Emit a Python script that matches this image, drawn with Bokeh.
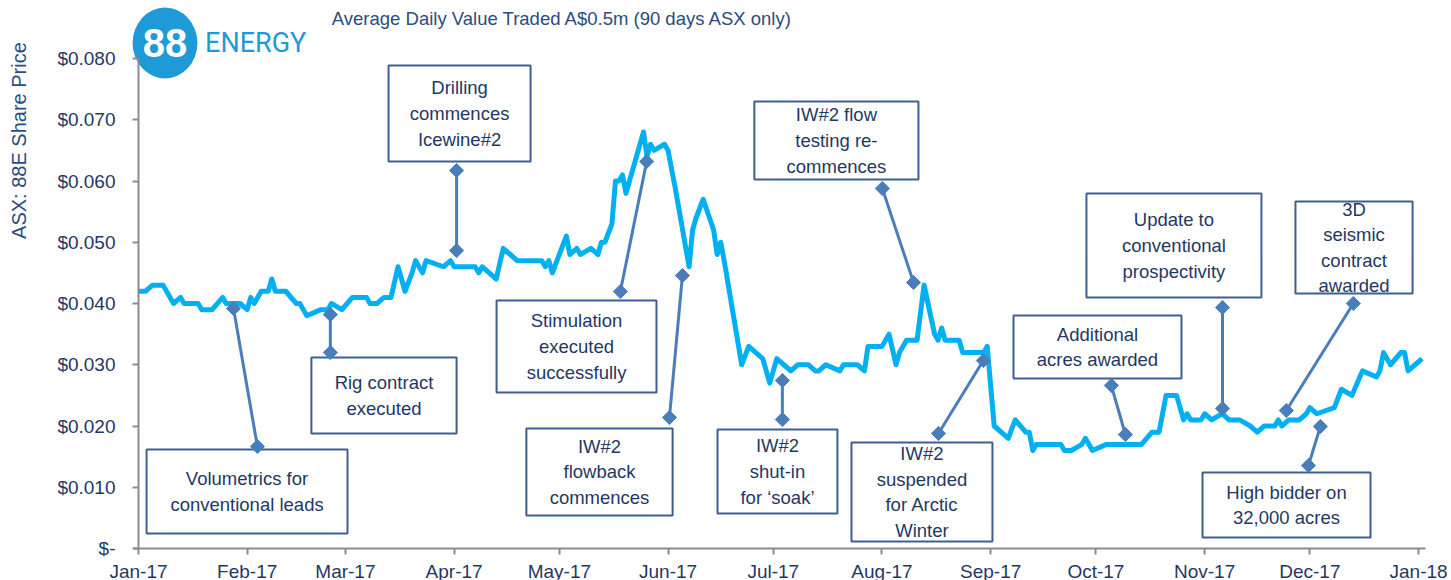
import numpy as np
import pandas as pd
from bokeh.plotting import figure
from bokeh.models import (Range1d, MonthsTicker, DatetimeTickFormatter, FixedTicker,
                          CustomJSTickFormatter, ColumnDataSource)
from bokeh.core.properties import value
from bokeh.embed import file_html
from bokeh.resources import INLINE

# ---------------- data ----------------
start_date = "2017-01-01"
day_offsets = [0, 2, 4, 7, 10, 12, 13, 17, 18, 21, 24, 25, 29, 31, 32, 33, 35, 37, 38, 39,
               42, 45, 46, 47, 48, 52, 54, 55, 58, 61, 65, 66, 68, 70, 72, 74, 76, 78, 79, 81,
               82, 87, 89, 90, 96, 97, 98, 100, 102, 104, 106, 108, 115, 116, 117, 118, 122, 123, 125, 126,
               129, 131, 132, 133, 135, 136, 137, 138, 139, 144, 145, 146, 147, 150, 151, 153, 157, 158, 159, 161,
               164, 165, 166, 167, 172, 174, 178, 180, 182, 184, 186, 188, 191, 193, 194, 196, 200, 201, 205, 207,
               208, 212, 214, 216, 217, 219, 222, 224, 227, 228, 229, 230, 234, 235, 241, 242, 244, 248, 250, 253,
               254, 255, 256, 263, 264, 266, 269, 270, 272, 276, 286, 289, 291, 293, 296, 298, 299, 300, 303, 304,
               306, 309, 311, 314, 317, 319, 321, 324, 325, 326, 328, 331, 333, 334, 336, 341, 343, 346, 349, 353,
               354, 355, 357, 360, 361, 362, 364, 366]
share_price = [0.042, 0.042, 0.043, 0.043, 0.040, 0.041, 0.040, 0.040, 0.039, 0.039, 0.041, 0.040, 0.040, 0.039, 0.041, 0.040, 0.042, 0.042, 0.044, 0.042,
               0.042, 0.040, 0.040, 0.039, 0.038, 0.039, 0.039, 0.040, 0.039, 0.041, 0.041, 0.040, 0.040, 0.041, 0.041, 0.046, 0.042, 0.045, 0.047, 0.045,
               0.047, 0.046, 0.047, 0.046, 0.046, 0.045, 0.046, 0.045, 0.044, 0.049, 0.048, 0.047, 0.047, 0.046, 0.047, 0.045, 0.051, 0.048, 0.049, 0.048,
               0.049, 0.048, 0.050, 0.050, 0.053, 0.060, 0.060, 0.061, 0.058, 0.068, 0.064, 0.066, 0.065, 0.066, 0.065, 0.059, 0.046, 0.052, 0.054, 0.057,
               0.052, 0.048, 0.050, 0.047, 0.030, 0.033, 0.031, 0.027, 0.031, 0.030, 0.029, 0.030, 0.030, 0.029, 0.029, 0.030, 0.029, 0.030, 0.030, 0.029,
               0.033, 0.033, 0.035, 0.030, 0.032, 0.034, 0.034, 0.043, 0.035, 0.034, 0.036, 0.034, 0.034, 0.032, 0.032, 0.033, 0.020, 0.018, 0.021, 0.019,
               0.019, 0.016, 0.017, 0.017, 0.016, 0.016, 0.017, 0.018, 0.016, 0.017, 0.017, 0.019, 0.019, 0.025, 0.025, 0.021, 0.022, 0.021, 0.021, 0.022,
               0.021, 0.022, 0.021, 0.021, 0.020, 0.019, 0.020, 0.020, 0.021, 0.020, 0.021, 0.021, 0.022, 0.023, 0.022, 0.023, 0.026, 0.025, 0.029, 0.028,
               0.029, 0.032, 0.030, 0.032, 0.032, 0.029, 0.030, 0.031]
assert len(day_offsets) == len(share_price)

y_ticks = [0.0, 0.01, 0.02, 0.03, 0.04, 0.05, 0.06, 0.07, 0.08]
y_tick_labels = ["$-", "$0.010", "$0.020", "$0.030", "$0.040", "$0.050", "$0.060", "$0.070", "$0.080"]
x_tick_format = "%b-%y"

title_text = "Average Daily Value Traded A$0.5m (90 days ASX only)"
y_axis_title = "ASX: 88E Share Price"
logo_mark = "88"
logo_word = "ENERGY"

event_texts = [
    "Volumetrics for\nconventional leads",
    "Rig contract\nexecuted",
    "Drilling\ncommences\nIcewine#2",
    "Stimulation\nexecuted\nsuccessfully",
    "IW#2\nflowback\ncommences",
    "IW#2\nshut-in\nfor \u2018soak\u2019",
    "IW#2 flow\ntesting re-\ncommences",
    "IW#2\nsuspended\nfor Arctic\nWinter",
    "Additional\nacres awarded",
    "Update to\nconventional\nprospectivity",
    "3D\nseismic\ncontract\nawarded",
    "High bidder on\n32,000 acres",
]

# ---------------- layout of the call-outs (day offset, price units) ----------------
box_left = [2.3, 49.3, 71.3, 102.1, 110.6, 165.1, 175.6, 203.3, 249.5, 270.3, 329.9, 303.4]
box_right = [59.6, 90.7, 111.8, 147.7, 152.3, 199.3, 222.4, 243.5, 297.4, 320.2, 363.3, 351.3]
box_bottom = [0.00245, 0.01878, 0.06318, 0.02547, 0.00539, 0.00571, 0.06024, 0.00114, 0.02776, 0.04098, 0.04163, 0.00180]
box_top = [0.01616, 0.03118, 0.07886, 0.04049, 0.01959, 0.01943, 0.07298, 0.01731, 0.03804, 0.05796, 0.05665, 0.01241]
conn_x0 = [27.1, 54.7, 90.7, 137.4, 151.4, 183.6, 212.1, 228.1, 277.4, 309.1, 346.4, 333.6]
conn_y0 = [0.0392, 0.0382, 0.06171, 0.04196, 0.02139, 0.02743, 0.05878, 0.01878, 0.02661, 0.03935, 0.0400, 0.01355]
conn_x1 = [33.9, 54.7, 90.7, 144.9, 155.1, 183.6, 221.0, 240.9, 281.4, 309.1, 327.3, 337.0]
conn_y1 = [0.01665, 0.0320, 0.04865, 0.06318, 0.04457, 0.02106, 0.04343, 0.03069, 0.01861, 0.02286, 0.02253, 0.01992]

# ---------------- helpers ----------------
DAY_MS = 86400000.0
T0 = pd.Timestamp(start_date).value / 1e6
PX_PER_DAY = 3.507
PX_PER_UNIT = 6125.0
W, H = 1451, 580
ORIGIN_X, ORIGIN_Y = 138, 548   # pixel position of (Jan-17, $0) inside the canvas


def X(days):
    return T0 + np.asarray(days, dtype=float) * DAY_MS


FONT = value("Liberation Sans")
NAVY = "#1F3864"
LABEL_BLUE = "#2B4C7E"
LINE_BLUE = "#00B0F0"
CONN_BLUE = "#4A7EBB"
BOX_BLUE = "#3F5F8F"
LOGO_BLUE = "#1E9AD6"
AXIS_GREY = "#8C8C8C"

dates = pd.Timestamp(start_date) + pd.to_timedelta(day_offsets, unit="D")
src = ColumnDataSource(dict(date=dates, price=share_price))

x_range = Range1d(float(X(-ORIGIN_X / PX_PER_DAY)), float(X((W - ORIGIN_X) / PX_PER_DAY)))
y_range = Range1d(-(H - ORIGIN_Y) / PX_PER_UNIT, ORIGIN_Y / PX_PER_UNIT)

p = figure(width=W, height=H, x_axis_type="datetime", x_range=x_range, y_range=y_range,
           output_backend="svg", toolbar_location=None, min_border=0, title=None)
p.outline_line_color = None
p.xgrid.visible = False
p.ygrid.visible = False
p.background_fill_color = "white"

# axes placed at the origin, inside the frame
xa = p.xaxis[0]
xa.fixed_location = 0.0
xa.bounds = (float(X(-1.4)), float(X(367)))
xa.ticker = MonthsTicker(months=list(range(12)))
xa.formatter = DatetimeTickFormatter(months=x_tick_format, days=x_tick_format, years=x_tick_format)
ya = p.yaxis[0]
ya.fixed_location = float(X(0))
ya.bounds = (0.0, 0.08)
ya.ticker = FixedTicker(ticks=y_ticks)
ya.formatter = CustomJSTickFormatter(args=dict(tvals=y_ticks, tlabels=y_tick_labels), code="""
    for (let i = 0; i < tvals.length; i++) { if (Math.abs(tvals[i] - tick) < 1e-9) return tlabels[i]; }
    return "";
""")
for ax in (xa, ya):
    ax.axis_line_color = AXIS_GREY
    ax.axis_line_width = 2
    ax.major_tick_line_color = AXIS_GREY
    ax.major_tick_line_width = 2
    ax.major_tick_in = 0
    ax.major_tick_out = 6
    ax.minor_tick_line_color = None
    ax.major_label_text_font = "Liberation Sans"
    ax.major_label_text_font_size = "19px"
    ax.major_label_text_color = NAVY
xa.major_label_standoff = 6
ya.major_label_standoff = 17

# price line
p.line("date", "price", source=src, line_color=LINE_BLUE, line_width=5, line_join="round")

# call-out boxes and texts
L, R = X(box_left), X(box_right)
p.quad(left=L, right=R, bottom=box_bottom, top=box_top,
       fill_color="white", line_color=BOX_BLUE, line_width=2)
p.text(x=(L + R) / 2, y=(np.array(box_bottom) + np.array(box_top)) / 2, text=event_texts,
       text_font=FONT, text_font_size="18.5px", text_color=NAVY, text_align="center",
       text_baseline="middle", text_line_height=1.22)

# connectors
p.segment(x0=X(conn_x0), y0=conn_y0, x1=X(conn_x1), y1=conn_y1, line_color=CONN_BLUE, line_width=3)
p.scatter(x=np.concatenate([X(conn_x0), X(conn_x1)]), y=conn_y0 + conn_y1,
          marker="square", angle=np.pi / 4, size=10, fill_color=CONN_BLUE, line_color=CONN_BLUE)

# title, axis title, logo
p.text(x=[float(X(120.9))], y=[0.08653], text=[title_text], text_font=FONT, text_font_size="18.5px",
       text_color=LABEL_BLUE, text_align="center", text_baseline="middle")
p.text(x=[float(X(-34.2))], y=[0.0666], text=[y_axis_title], angle=np.pi / 2, text_font=FONT,
       text_font_size="20px", text_color=LABEL_BLUE, text_align="center", text_baseline="middle")
p.ellipse(x=[float(X(7.56))], y=[0.08253], width=18.5 * DAY_MS, height=0.0116,
          fill_color=LOGO_BLUE, line_color=None)
p.text(x=[float(X(7.56))], y=[0.0826], text=[logo_mark], text_font=FONT, text_font_size="40px",
       text_font_style="bold", text_color="white", text_align="center", text_baseline="middle")
p.text(x=[float(X(33.4))], y=[0.0825], text=[logo_word], text_font=value("Roboto"), text_font_size="27px",
       text_color=LOGO_BLUE, text_align="center", text_baseline="middle")

open("out.html", "w").write(file_html(p, INLINE))
